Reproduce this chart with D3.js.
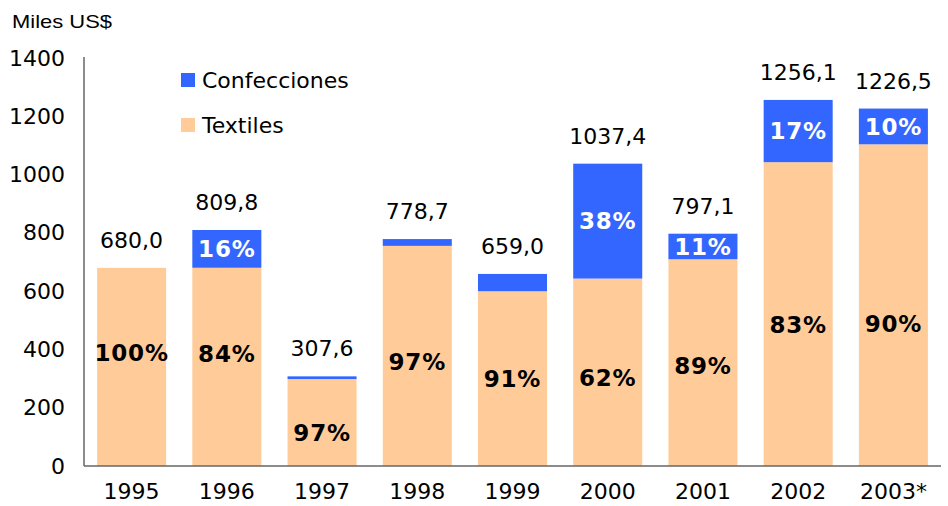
<!DOCTYPE html>
<html>
<head>
<meta charset="utf-8">
<script src="https://cdn.jsdelivr.net/npm/d3@7"></script>
<style>
  html, body { margin: 0; padding: 0; background: #fff; }
  svg { display: block; }
</style>
</head>
<body>
<svg id="chart" width="948" height="506"></svg>
<script>
// Exports by year (thousands of US$)
const years = ["1995", "1996", "1997", "1998", "1999", "2000", "2001", "2002", "2003*"];
const totals = [680.0, 809.8, 307.6, 778.7, 659.0, 1037.4, 797.1, 1256.1, 1226.5];
const textilesShare = [100, 84, 97, 97, 91, 62, 89, 83, 90];
const confeccionesShare = [0, 16, 3, 3, 9, 38, 11, 17, 10];
const showConfeccionesLabel = [false, true, false, false, false, true, true, true, true];
const yTicks = [0, 200, 400, 600, 800, 1000, 1200, 1400];

// Where each textiles percentage label sits, in axis units
const textilesLabelAt = [388, 384, 113, 357, 299, 302, 343, 484, 487];

const textiles = totals.map((t, i) => t * textilesShare[i] / 100);
const confecciones = totals.map((t, i) => t - textiles[i]);

const rows = years.map((y, i) => ({
  year: y, Textiles: textiles[i], Confecciones: confecciones[i]
}));

const colors = { Textiles: "#FFCC99", Confecciones: "#3366FF" };
const FONT = "'DejaVu Sans', Verdana, sans-serif";
const FS = 22;

const svg = d3.select("#chart");
const margin = { left: 84, right: 7 };
const W = 948;

const x = d3.scaleBand()
  .domain(years)
  .range([margin.left, W - margin.right])
  .paddingInner(0.275)
  .paddingOuter(0.1375);

const y = d3.scaleLinear()
  .domain([0, 1400])
  .range([466, 58]);

const stack = d3.stack().keys(["Textiles", "Confecciones"]);
const series = stack(rows);

svg.append("g")
  .selectAll("g")
  .data(series)
  .join("g")
  .attr("fill", d => colors[d.key])
  .selectAll("rect")
  .data(d => d)
  .join("rect")
  .attr("x", d => x(d.data.year))
  .attr("width", x.bandwidth())
  .attr("y", d => y(d[1]))
  .attr("height", d => Math.max(0, y(d[0]) - y(d[1])));

// Axes
const yAxis = d3.axisLeft(y).tickValues(yTicks).tickSize(0).tickPadding(19).tickFormat(d3.format("d"));
const gy = svg.append("g").attr("transform", `translate(${margin.left},0)`).call(yAxis);
gy.select(".domain").attr("stroke", "#666").attr("stroke-width", 1.5).attr("d", `M0,${y(0)}V57`);
gy.selectAll("text").attr("font-family", FONT).attr("font-size", FS).attr("fill", "#000");

const xAxis = d3.axisBottom(x).tickSize(0).tickPadding(17);
const gx = svg.append("g").attr("transform", `translate(0,${y(0)})`).call(xAxis);
gx.select(".domain").attr("stroke", "#666").attr("stroke-width", 1.5).attr("d", `M${margin.left},0H${W - margin.right}`);
gx.selectAll("text").attr("font-family", FONT).attr("font-size", FS).attr("fill", "#000");

// Total labels above each bar
const fmt = v => d3.format(".1f")(v).replace(".", ",");
svg.append("g")
  .selectAll("text")
  .data(years)
  .join("text")
  .attr("x", d => x(d) + x.bandwidth() / 2)
  .attr("y", (d, i) => y(totals[i]) - 20)
  .attr("text-anchor", "middle")
  .attr("font-family", FONT)
  .attr("font-size", FS)
  .attr("fill", "#000")
  .text((d, i) => fmt(totals[i]));

// Textiles share labels
svg.append("g")
  .selectAll("text")
  .data(years)
  .join("text")
  .attr("x", d => x(d) + x.bandwidth() / 2)
  .attr("y", (d, i) => y(textilesLabelAt[i]))
  .attr("dy", "0.36em")
  .attr("text-anchor", "middle")
  .attr("font-family", FONT)
  .attr("font-weight", "bold")
  .attr("font-size", 23)
  .attr("letter-spacing", 0.8)
  .attr("fill", "#000")
  .text((d, i) => textilesShare[i] + "%");

// Confecciones share labels
svg.append("g")
  .selectAll("text")
  .data(years.filter((d, i) => showConfeccionesLabel[i]))
  .join("text")
  .attr("x", d => x(d) + x.bandwidth() / 2)
  .attr("y", d => { const i = years.indexOf(d); return y(textiles[i] + confecciones[i] / 2); })
  .attr("dy", "0.36em")
  .attr("text-anchor", "middle")
  .attr("font-family", FONT)
  .attr("font-weight", "bold")
  .attr("font-size", 23)
  .attr("letter-spacing", 0.8)
  .attr("fill", "#fff")
  .text(d => confeccionesShare[years.indexOf(d)] + "%");

// Legend
const legendKeys = ["Confecciones", "Textiles"];
const lg = svg.append("g").selectAll("g").data(legendKeys).join("g")
  .attr("transform", (d, i) => `translate(181,${73 + i * 45})`);
lg.append("rect").attr("width", 14).attr("height", 14).attr("fill", d => colors[d]);
lg.append("text").attr("x", 21).attr("y", 7).attr("dy", "0.36em")
  .attr("font-family", FONT).attr("font-size", FS).attr("fill", "#000").text(d => d);

// Unit caption
svg.append("text")
  .attr("x", 12).attr("y", 28)
  .attr("font-family", "'Liberation Sans', Arial, sans-serif")
  .attr("font-size", 19).attr("fill", "#000")
  .attr("textLength", 100).attr("lengthAdjust", "spacingAndGlyphs")
  .text("Miles US$");
</script>
</body>
</html>
